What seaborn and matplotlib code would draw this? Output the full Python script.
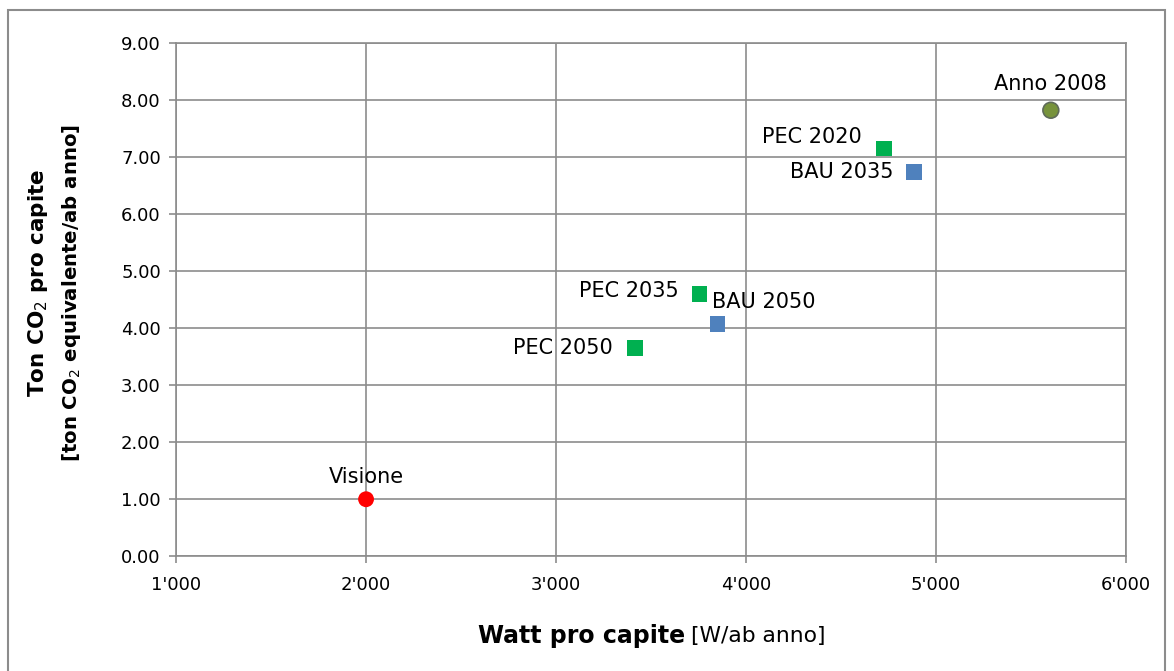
import pandas as pd
import seaborn as sns
import matplotlib.pyplot as plt
import matplotlib.ticker as mticker
from matplotlib.patches import Rectangle

labels = ["Visione", "Anno 2008", "PEC 2020", "BAU 2035", "PEC 2035", "BAU 2050", "PEC 2050"]
watt = [2000, 5605, 4725, 4885, 3755, 3850, 3415]
co2 = [1.00, 7.82, 7.15, 6.73, 4.60, 4.07, 3.65]
group = ["Visione", "2008", "PEC", "BAU", "PEC", "BAU", "PEC"]

colors = {"Visione": "#FF0000", "2008": "#77933C", "PEC": "#00B050", "BAU": "#4F81BD"}
markers = {"Visione": "o", "2008": "o", "PEC": "s", "BAU": "s"}

sns.set_style("white")
plt.rcParams['font.family'] = ['DejaVu Sans']
plt.rcParams['text.color'] = 'black'

df = pd.DataFrame({'label': labels, 'watt': watt, 'co2': co2, 'group': group})

fig = plt.figure(figsize=(11.74, 6.71), dpi=100)
ax = fig.add_axes([0.150, 0.171, 0.809, 0.765])

sns.scatterplot(data=df, x='watt', y='co2', hue='group', style='group',
                palette=colors, markers=markers, s=130, ax=ax, legend=False,
                edgecolor=None, linewidth=0, zorder=3)
# darker rim for the 2008 point
ax.scatter([watt[1]], [co2[1]], s=130, facecolor='none', edgecolor='#5F6B5A',
           linewidth=1.2, zorder=4)

ax.set_xlim(1000, 6000)
ax.set_ylim(0, 9)
ax.xaxis.set_major_locator(mticker.MultipleLocator(1000))
ax.yaxis.set_major_locator(mticker.MultipleLocator(1))
ax.xaxis.set_major_formatter(mticker.FuncFormatter(lambda v, p: f"{v:,.0f}".replace(",", "'")))
ax.yaxis.set_major_formatter(mticker.FormatStrFormatter("%.2f"))
ax.grid(True, color='#8C8C8C', linewidth=1.2)
ax.set_axisbelow(True)
for sp in ax.spines.values():
    sp.set_color('#8C8C8C')
    sp.set_linewidth(1.2)
ax.tick_params(axis='both', labelsize=13, labelcolor='black', length=5, width=1.2,
               color='#8C8C8C', direction='out', bottom=True, left=True, pad=6)
ax.tick_params(axis='x', pad=9)
ax.set_xlabel("")
ax.set_ylabel("")

# point labels: (offset x pt, offset y pt, ha)
offsets = {
    "Visione": (0, 16, 'center'),
    "Anno 2008": (0, 19, 'center'),
    "PEC 2020": (-16, 8, 'right'),
    "BAU 2035": (-15, 0, 'right'),
    "PEC 2035": (-15, 2, 'right'),
    "BAU 2050": (-4, 16, 'left'),
    "PEC 2050": (-16, 0, 'right'),
}
for lab, x, y in zip(labels, watt, co2):
    dx, dy, ha = offsets[lab]
    ax.annotate(lab, (x, y), xytext=(dx, dy), textcoords='offset points',
                ha=ha, va='center', fontsize=15, color='black', zorder=5)

# axis titles
fig.text(0.032, 0.578, "Ton CO$_2$ pro capite", rotation=90, ha='center', va='center',
         fontsize=15.5, fontweight='bold')
fig.text(0.061, 0.563, "[ton CO$_2$ equivalente/ab anno]", rotation=90, ha='center',
         va='center', fontsize=14.2, fontweight='bold')
fig.text(0.584, 0.052, "Watt pro capite", ha='right', va='center', fontsize=17,
         fontweight='bold')
fig.text(0.589, 0.052, "[W/ab anno]", ha='left', va='center', fontsize=15.7)

# outer chart frame
fig.patches.append(Rectangle((0.007, -0.01), 0.985, 0.995, transform=fig.transFigure,
                             fill=False, edgecolor='#8C8C8C', linewidth=1.5))

fig.savefig("out.png", dpi=100)
